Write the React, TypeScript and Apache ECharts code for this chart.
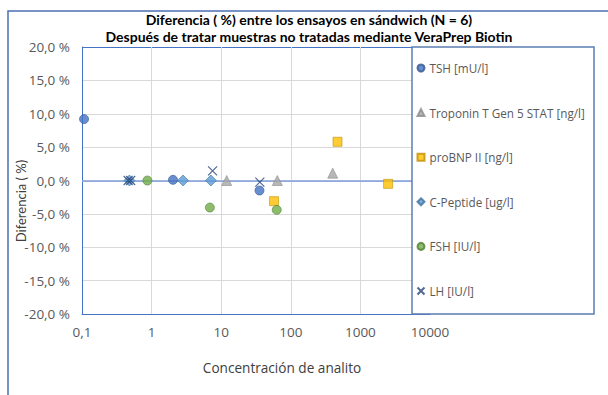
import React, { useEffect, useRef } from "react";
import * as echarts from "echarts";

const titleLines = [
  "Diferencia ( %) entre los ensayos en sándwich (N = 6)",
  "Después de tratar muestras no tratadas mediante VeraPrep Biotin",
];
const xAxisTitle = "Concentración de analito";
const yAxisTitle = "Diferencia ( %)";

const seriesNames = [
  "TSH [mU/l]",
  "Troponin T Gen 5 STAT [ng/l]",
  "proBNP II [ng/l]",
  "C-Peptide [ug/l]",
  "FSH [IU/l]",
  "LH [IU/l]",
];

const tshX = [0.107, 2.03, 35.5];
const tshY = [9.2, 0.1, -1.5];
const tropX = [12.0, 64, 400];
const tropY = [0, 0, 1.1];
const bnpX = [469, 57.4, 2500];
const bnpY = [5.8, -3.1, -0.5];
const cpepX = [0.48, 2.83, 7.11];
const cpepY = [0, 0, 0];
const fshX = [0.87, 6.87, 62.8];
const fshY = [0, -4.05, -4.4];
const lhX = [0.46, 0.5, 7.52, 35.9];
const lhY = [0, 0, 1.45, -0.25];

const FONT = "Lato";
const FONT2 = "Open Sans";

const pairs = (xs: number[], ys: number[]) => xs.map((x, i) => [x, ys[i]]);

export default function App() {
  const ref = useRef<HTMLDivElement>(null);
  useEffect(() => {
    if (!ref.current) return;
    const chart = echarts.init(ref.current, undefined, { renderer: "svg" });
    const gridColors = [
      "#4472C4",
      "#D9D9D9",
      "#D9D9D9",
      "#D9D9D9",
      "#D9D9D9",
      "#D9D9D9",
      "#D9D9D9",
      "#D9D9D9",
      "#4472C4",
    ];
    const option: any = {
      animation: false,
      backgroundColor: "#ffffff",
      textStyle: { fontFamily: FONT2 },
      grid: { left: 82, top: 47, width: 348, height: 267, containLabel: false },
      xAxis: {
        type: "log",
        logBase: 10,
        min: 0.1,
        max: 10000,
        axisLine: { show: true, onZero: false, lineStyle: { color: "#4472C4", width: 1 } },
        axisTick: { show: false },
        splitLine: { show: true, lineStyle: { color: "#D9D9D9", width: 1 } },
        axisLabel: {
          color: "#595959",
          fontSize: 13.5,
          fontFamily: FONT2,
          margin: 11,
          formatter: (v: number) =>
            v < 1 ? v.toFixed(1).replace(".", ",") : String(Math.round(v)),
        },
      },
      yAxis: {
        type: "value",
        min: -20,
        max: 20,
        interval: 5,
        axisLine: { show: true, lineStyle: { color: "#4472C4", width: 1 } },
        axisTick: { show: false },
        splitLine: { show: true, lineStyle: { color: gridColors, width: 1 } },
        axisLabel: {
          color: "#595959",
          fontSize: 13.5,
          fontFamily: FONT2,
          margin: 12,
          formatter: (v: number) => v.toFixed(1).replace(".", ",") + " %",
        },
      },
      legend: {
        orient: "vertical",
        left: 410,
        top: 56,
        itemWidth: 7,
        itemHeight: 7,
        itemGap: 30.6,
        z: 20,
        textStyle: { color: "#595959", fontSize: 11.7, fontFamily: FONT2, lineHeight: 14 },
        data: seriesNames,
      },
      series: [
        {
          name: seriesNames[0],
          type: "scatter",
          symbol: "circle",
          symbolSize: 9,
          itemStyle: { color: "#4472C4", borderColor: "#2F528F", borderWidth: 0.75 },
          data: pairs(tshX, tshY),
          z: 3,
          markLine: {
            silent: true,
            symbol: "none",
            label: { show: false },
            lineStyle: { color: "#8FAADC", width: 1.75, type: "solid" },
            data: [{ yAxis: 0 }],
            z: 1,
          },
        },
        {
          name: seriesNames[1],
          type: "scatter",
          symbol: "triangle",
          symbolSize: 10,
          itemStyle: { color: "#A5A5A5", borderColor: "#8C8C8C", borderWidth: 0.75 },
          data: pairs(tropX, tropY),
          z: 3,
        },
        {
          name: seriesNames[2],
          type: "scatter",
          symbol: "rect",
          symbolSize: 9,
          itemStyle: { color: "#FFC000", borderColor: "#BF9000", borderWidth: 0.75 },
          data: pairs(bnpX, bnpY),
          z: 3,
        },
        {
          name: seriesNames[3],
          type: "scatter",
          symbol: "diamond",
          symbolSize: 11,
          itemStyle: { color: "#5B9BD5", borderColor: "#41719C", borderWidth: 0.75 },
          data: pairs(cpepX, cpepY),
          z: 3,
        },
        {
          name: seriesNames[4],
          type: "scatter",
          symbol: "circle",
          symbolSize: 9,
          itemStyle: { color: "#70AD47", borderColor: "#507E32", borderWidth: 0.75 },
          data: pairs(fshX, fshY),
          z: 3,
        },
        {
          name: seriesNames[5],
          type: "scatter",
          symbol: "path://M0,0L10,10M10,0L0,10",
          symbolSize: 9,
          itemStyle: { color: "none", borderColor: "#264478", borderWidth: 1.2 },
          data: pairs(lhX, lhY),
          z: 4,
        },
      ],
      graphic: [
        {
          type: "rect",
          z: -1,
          silent: true,
          shape: { x: 8, y: 11, width: 800, height: 600 },
          style: { fill: "none", stroke: "#4A6FB5", lineWidth: 1.5 },
        },
        {
          type: "rect",
          z: 10,
          silent: true,
          shape: { x: 412, y: 47, width: 182, height: 267 },
          style: { fill: "#ffffff", stroke: "#5B7DB3", lineWidth: 1.5 },
        },
        {
          type: "text",
          x: 309,
          y: 19,
          style: {
            text: titleLines[0],
            fill: "#000000",
            font: `bold 14px ${FONT}`,
            align: "center",
            verticalAlign: "middle",
          },
        },
        {
          type: "text",
          x: 309,
          y: 36,
          style: {
            text: titleLines[1],
            fill: "#000000",
            font: `bold 14px ${FONT}`,
            align: "center",
            verticalAlign: "middle",
          },
        },
        {
          type: "text",
          x: 282,
          y: 367,
          style: {
            text: xAxisTitle,
            fill: "#404040",
            font: `13.6px ${FONT2}`,
            align: "center",
            verticalAlign: "middle",
          },
        },
        {
          type: "text",
          x: 21,
          y: 201,
          rotation: Math.PI / 2,
          style: {
            text: yAxisTitle,
            fill: "#404040",
            font: `13px ${FONT}`,
            align: "center",
            verticalAlign: "middle",
          },
        },
      ],
    };
    chart.setOption(option);
    return () => chart.dispose();
  }, []);
  return (
    <div
      ref={ref}
      style={{ position: "absolute", left: 0, top: 0, width: 608, height: 395 }}
    />
  );
}
